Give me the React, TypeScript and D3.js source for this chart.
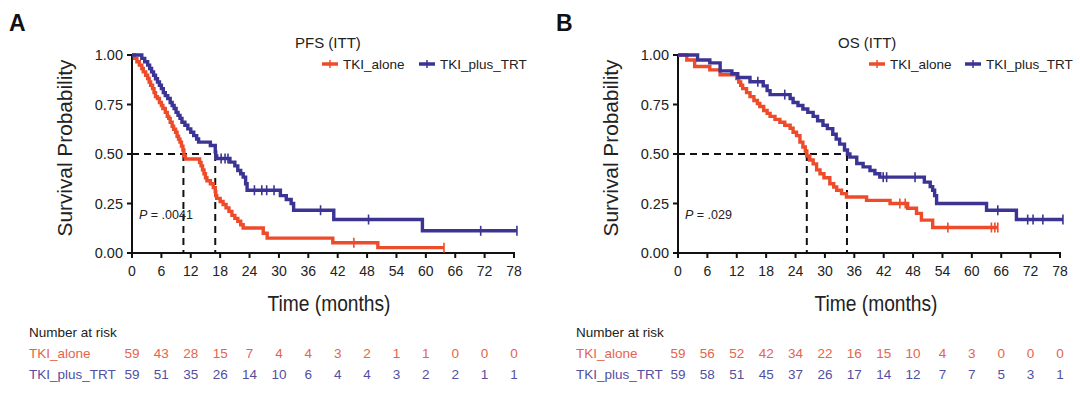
import React from 'react';
import * as d3 from 'd3';

const RED = '#EE4B2B';
const BLUE = '#3B3494';
const RED_TXT = '#E4644C';
const BLUE_TXT = '#524FA0';

const xTicks = [0, 6, 12, 18, 24, 30, 36, 42, 48, 54, 60, 66, 72, 78];
const yTicks = [0, 0.25, 0.5, 0.75, 1];
const seriesNames = ['TKI_alone', 'TKI_plus_TRT'];

// PFS (ITT)
const pfsAloneSteps: [number, number][] = [
  [0, 1], [0.5, 0.983], [1.0, 0.966], [1.5, 0.949], [2.0, 0.932], [2.3, 0.915], [2.8, 0.898], [3.2, 0.881],
  [3.5, 0.864], [3.8, 0.847], [4.2, 0.83], [4.5, 0.81], [4.8, 0.79], [5.2, 0.78], [5.6, 0.76], [6.0, 0.745],
  [6.3, 0.73], [6.8, 0.71], [7.2, 0.69], [7.5, 0.68], [7.8, 0.66], [8.2, 0.64], [8.5, 0.625], [8.9, 0.61],
  [9.2, 0.59], [9.5, 0.575], [9.8, 0.56], [10.1, 0.54], [10.4, 0.52], [10.6, 0.49], [10.9, 0.475],
  [13.8, 0.457], [14.1, 0.44], [14.4, 0.42], [14.7, 0.4], [15.0, 0.38], [15.3, 0.365], [16.0, 0.35],
  [16.6, 0.33], [17.0, 0.31], [17.1, 0.29], [17.3, 0.276], [18.0, 0.26], [18.6, 0.245], [19.2, 0.228],
  [19.8, 0.21], [20.4, 0.19], [21.0, 0.175], [21.6, 0.16], [22.2, 0.143], [22.7, 0.126], [26.8, 0.1],
  [27.6, 0.075], [41.0, 0.052], [50.2, 0.027],
];
const pfsAloneEnd = 63.7;
const pfsAloneCensor = [45.3, 63.7];

const pfsPlusSteps: [number, number][] = [
  [0, 1], [2.0, 0.983], [2.6, 0.966], [3.2, 0.949], [3.6, 0.932], [4.0, 0.915], [4.4, 0.898], [4.8, 0.88],
  [5.2, 0.864], [5.6, 0.847], [6.0, 0.83], [6.4, 0.81], [6.8, 0.795], [7.3, 0.78], [7.8, 0.76], [8.2, 0.745],
  [8.6, 0.73], [9.0, 0.71], [9.4, 0.695], [9.8, 0.68], [10.2, 0.66], [10.8, 0.645], [11.4, 0.627],
  [12.0, 0.61], [12.6, 0.593], [13.2, 0.576], [13.6, 0.56], [16.0, 0.543], [17.0, 0.51], [17.1, 0.49],
  [17.3, 0.477], [20.0, 0.459], [21.0, 0.44], [21.6, 0.417], [22.2, 0.4], [22.7, 0.383], [23.2, 0.35],
  [23.5, 0.317], [30.3, 0.29], [31.5, 0.27], [32.5, 0.25], [33.0, 0.216], [41.2, 0.169], [59.3, 0.112],
];
const pfsPlusEnd = 78.6;
const pfsPlusCensor = [18.2, 19.0, 19.6, 25.0, 26.5, 27.5, 29.0, 38.5, 48.3, 71.2, 78.6];

// OS (ITT)
const osAloneSteps: [number, number][] = [
  [0, 1], [1.8, 0.975], [3.4, 0.942], [6.5, 0.925], [8.6, 0.9], [12.0, 0.881],
  [12.4, 0.864], [12.8, 0.847], [13.2, 0.83], [14.0, 0.81], [14.7, 0.79], [15.5, 0.77], [16.2, 0.755],
  [16.7, 0.74], [17.5, 0.72], [18.2, 0.705], [18.8, 0.69], [19.8, 0.675], [20.8, 0.66], [21.8, 0.645],
  [22.9, 0.63], [23.5, 0.61], [24.2, 0.593], [24.9, 0.56], [25.5, 0.535], [26.0, 0.515], [26.3, 0.49],
  [26.9, 0.47], [27.6, 0.45], [28.3, 0.42], [29.0, 0.4], [29.8, 0.38], [31.0, 0.35], [31.8, 0.333],
  [32.4, 0.317], [33.4, 0.3], [34.4, 0.283], [38.5, 0.266], [43.3, 0.25], [46.9, 0.226], [48.7, 0.2],
  [49.7, 0.166], [52.0, 0.129],
];
const osAloneEnd = 65.3;
const osAloneCensor = [45.3, 46.4, 55.1, 64.0, 64.7, 65.3];

const osPlusSteps: [number, number][] = [
  [0, 1], [4.0, 0.975], [6.5, 0.96], [8.6, 0.92], [11.0, 0.905],
  [12.2, 0.886], [14.7, 0.865], [17.4, 0.844], [18.2, 0.82], [18.8, 0.8], [22.9, 0.78],
  [23.5, 0.76], [24.5, 0.745], [25.5, 0.727], [26.5, 0.71], [27.6, 0.69], [28.5, 0.668], [29.6, 0.645],
  [30.5, 0.628], [31.6, 0.6], [32.3, 0.575], [33.0, 0.55], [34.0, 0.52], [34.6, 0.5], [35.1, 0.484],
  [36.5, 0.452], [37.8, 0.435], [39.2, 0.417], [40.2, 0.4], [41.2, 0.383], [50.3, 0.358], [51.5, 0.335],
  [52.0, 0.317], [52.4, 0.29], [52.8, 0.25], [63.0, 0.216], [69.1, 0.169],
];
const osPlusEnd = 78.6;
const osPlusCensor = [16.3, 21.8, 41.9, 42.6, 48.4, 65.3, 71.4, 72.5, 74.5, 78.6];

const pfsRiskAlone = [59, 43, 28, 15, 7, 4, 4, 3, 2, 1, 1, 0, 0, 0];
const pfsRiskPlus = [59, 51, 35, 26, 14, 10, 6, 4, 4, 3, 2, 2, 1, 1];
const osRiskAlone = [59, 56, 52, 42, 34, 22, 16, 15, 10, 4, 3, 0, 0, 0];
const osRiskPlus = [59, 58, 51, 45, 37, 26, 17, 14, 12, 7, 7, 5, 3, 1];

const pfsMedians = [10.5, 17];
const osMedians = [26.3, 34.5];

const FONT = "'Liberation Sans', Arial, Helvetica, sans-serif";

type Curve = { steps: [number, number][]; end: number; censor: number[]; color: string };

function survAt(steps: [number, number][], t: number) {
  let s = 1;
  for (const [tt, v] of steps) if (tt <= t) s = v;
  return s;
}

function Panel(props: {
  letter: string; letterX: number; x0: number; x1: number; title: string; titleX: number;
  legendX: number; legend2X: number; curves: Curve[]; medians: number[]; pText: string;
  riskA: number[]; riskB: number[]; labelX: number; tableX: number; timeX: number;
}) {
  const x = d3.scaleLinear().domain([0, 78]).range([props.x0, props.x1]);
  const y = d3.scaleLinear().domain([0, 1]).range([253, 55]);
  const line = d3.line<[number, number]>().x(d => x(d[0])).y(d => y(d[1])).curve(d3.curveStepAfter);
  const y0 = y(0);
  return (
    <g fontFamily={FONT}>
      <text x={props.letterX} y={31} fontSize={23} fontWeight="bold" fill="#111">{props.letter}</text>
      <text x={props.titleX} y={48} fontSize={15} fill="#222">{props.title}</text>
      {/* legend */}
      {[props.legendX, props.legend2X].map((lx, i) => (
        <g key={i}>
          <line x1={lx} x2={lx + 16} y1={64} y2={64} stroke={props.curves[i].color} strokeWidth={3.5} />
          <line x1={lx + 8} x2={lx + 8} y1={60} y2={68} stroke={props.curves[i].color} strokeWidth={1.5} />
          <text x={lx + 21} y={68.5} fontSize={13.5} fill="#222">{seriesNames[i]}</text>
        </g>
      ))}
      {/* axes */}
      <line x1={props.x0} x2={props.x0} y1={y(1) - 1} y2={y0 + 1} stroke="#111" strokeWidth={2} />
      <line x1={props.x0 - 1} x2={x(78) + 1} y1={y0} y2={y0} stroke="#111" strokeWidth={2} />
      {yTicks.map(t => (
        <g key={t}>
          <line x1={props.x0 - 5} x2={props.x0} y1={y(t)} y2={y(t)} stroke="#111" strokeWidth={2} />
          <text x={props.x0 - 9} y={y(t) + 5} fontSize={14.5} textAnchor="end" fill="#222">{t.toFixed(2)}</text>
        </g>
      ))}
      {xTicks.map(t => (
        <g key={t}>
          <line x1={x(t)} x2={x(t)} y1={y0} y2={y0 + 5} stroke="#111" strokeWidth={2} />
          <text x={x(t)} y={276} fontSize={14} textAnchor="middle" fill="#222">{t}</text>
        </g>
      ))}
      <text transform={`translate(${props.labelX},148) rotate(-90)`} fontSize={21} textAnchor="middle"
        textLength={177} lengthAdjust="spacingAndGlyphs" fill="#222">Survival Probability</text>
      <text x={props.timeX} y={311} fontSize={22} textAnchor="middle" textLength={123}
        lengthAdjust="spacingAndGlyphs" fill="#222">Time (months)</text>
      {/* median lines */}
      <line x1={props.x0} x2={x(props.medians[1])} y1={y(0.5)} y2={y(0.5)} stroke="#111" strokeWidth={2} strokeDasharray="7,5" />
      {props.medians.map(m => (
        <line key={m} x1={x(m)} x2={x(m)} y1={y(0.5)} y2={y0} stroke="#111" strokeWidth={2} strokeDasharray="7,5" />
      ))}
      <text x={props.x0 + 7} y={219} fontSize={12.5} fill="#222"><tspan fontStyle="italic">P</tspan>{props.pText}</text>
      {/* curves */}
      {props.curves.map((c, i) => {
        const pts: [number, number][] = [...c.steps, [c.end, c.steps[c.steps.length - 1][1]]];
        return (
          <g key={i}>
            <path d={line(pts) || ''} fill="none" stroke={c.color} strokeWidth={3.4} />
            {c.censor.map((t, j) => (
              <line key={j} x1={x(t)} x2={x(t)} y1={y(survAt(c.steps, t)) - 5} y2={y(survAt(c.steps, t)) + 5}
                stroke={c.color} strokeWidth={1.6} />
            ))}
          </g>
        );
      })}
      {/* risk table */}
      <text x={props.tableX} y={337} fontSize={13.5} fill="#222">Number at risk</text>
      <text x={props.tableX} y={358} fontSize={13.5} fill={RED_TXT}>{seriesNames[0]}</text>
      <text x={props.tableX} y={379} fontSize={13.5} fill={BLUE_TXT}>{seriesNames[1]}</text>
      {xTicks.map((t, i) => (
        <g key={t}>
          <text x={x(t)} y={358} fontSize={13.5} textAnchor="middle" fill={RED_TXT}>{props.riskA[i]}</text>
          <text x={x(t)} y={379} fontSize={13.5} textAnchor="middle" fill={BLUE_TXT}>{props.riskB[i]}</text>
        </g>
      ))}
    </g>
  );
}

export default function App() {
  return (
    <svg width={1080} height={397} style={{ position: 'absolute', left: 0, top: 0, background: '#fff' }}>
      <rect width={1080} height={397} fill="#fff" />
      <Panel letter="A" letterX={9} x0={132} x1={514} title="PFS (ITT)" titleX={295} legendX={322} legend2X={419}
        curves={[
          { steps: pfsAloneSteps, end: pfsAloneEnd, censor: pfsAloneCensor, color: RED },
          { steps: pfsPlusSteps, end: pfsPlusEnd, censor: pfsPlusCensor, color: BLUE },
        ]}
        medians={pfsMedians} pText=" = .0041" riskA={pfsRiskAlone} riskB={pfsRiskPlus}
        labelX={72} tableX={29} timeX={329} />
      <Panel letter="B" letterX={556} x0={678} x1={1060} title="OS (ITT)" titleX={838} legendX={869} legend2X={965}
        curves={[
          { steps: osAloneSteps, end: osAloneEnd, censor: osAloneCensor, color: RED },
          { steps: osPlusSteps, end: osPlusEnd, censor: osPlusCensor, color: BLUE },
        ]}
        medians={osMedians} pText=" = .029" riskA={osRiskAlone} riskB={osRiskPlus}
        labelX={618} tableX={576} timeX={876} />
    </svg>
  );
}
